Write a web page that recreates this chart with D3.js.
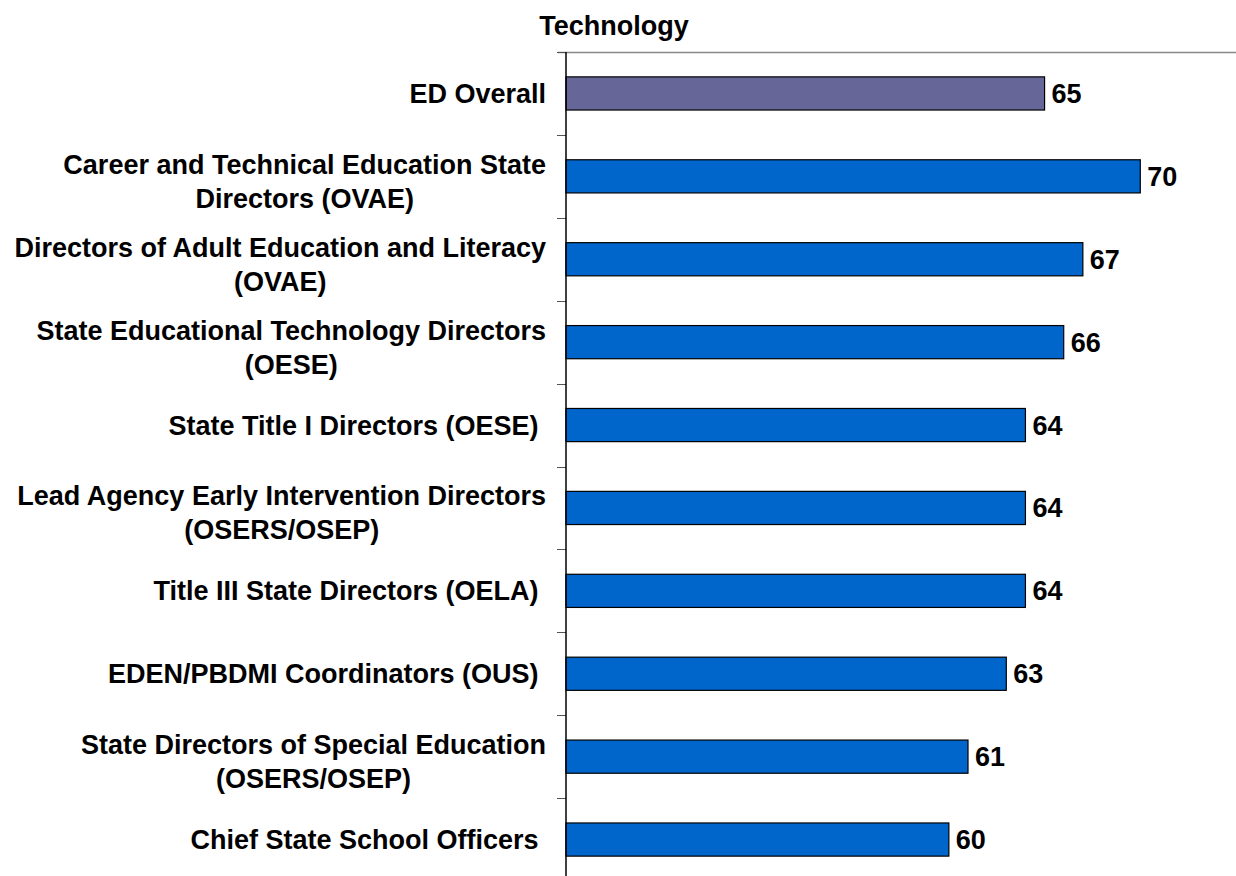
<!DOCTYPE html>
<html>
<head>
<meta charset="utf-8">
<script src="https://cdn.jsdelivr.net/npm/d3@7"></script>
<style>
  body { margin: 0; background: #fff; }
  text { font-family: Arial, "Liberation Sans", sans-serif; font-weight: bold; white-space: pre; }
</style>
</head>
<body>
<div id="container"></div>
<script>
//枠の大きさ
let width = 1236;
let height = 876;
let fontSize = 27;

//データ
var categories = [
  ["ED Overall"],
  ["Career and Technical Education State", "Directors (OVAE)"],
  ["Directors of Adult Education and Literacy", "(OVAE)"],
  ["State Educational Technology Directors", "(OESE)"],
  ["State Title I Directors (OESE) "],
  ["Lead Agency Early Intervention Directors", "(OSERS/OSEP)"],
  ["Title III State Directors (OELA) "],
  ["EDEN/PBDMI Coordinators (OUS) "],
  ["State Directors of Special Education", "(OSERS/OSEP)"],
  ["Chief State School Officers "]
];
var values = [65, 70, 67, 66, 64, 64, 64, 63, 61, 60];
var xDomain = [40, 75];
var title = "Technology";

var barColor = "#0066cc";
var overallColor = "#666699";

var svg = d3.select("#container").append("svg")
  .attr("width", width)
  .attr("height", height);

var x = d3.scaleLinear().domain(xDomain).range([566, 1236]);
var y = d3.scaleBand()
  .domain(d3.range(categories.length))
  .range([52, 881])
  .paddingInner(0.6)
  .paddingOuter(0.3);

//タイトル
svg.append("text")
  .attr("x", 614)
  .attr("y", 35)
  .attr("text-anchor", "middle")
  .attr("font-size", fontSize)
  .text(title);

//上の線
svg.append("line")
  .attr("x1", 558).attr("x2", 1236)
  .attr("y1", 52.5).attr("y2", 52.5)
  .attr("stroke", "#888").attr("stroke-width", 1.5);

//目盛り
var step = y.step();
var tickYs = d3.range(categories.length + 1).map(function(i) {
  return 52 + i * step;
});
svg.append("g").selectAll("line").data(tickYs).enter().append("line")
  .attr("x1", 557).attr("x2", 566)
  .attr("y1", function(d) { return Math.round(d) + 0.5; })
  .attr("y2", function(d) { return Math.round(d) + 0.5; })
  .attr("stroke", "#555").attr("stroke-width", 1);

//バー
svg.append("g").selectAll("rect").data(values).enter().append("rect")
  .attr("x", x(xDomain[0]))
  .attr("y", function(d, i) { return y(i); })
  .attr("width", function(d) { return x(d) - x(xDomain[0]); })
  .attr("height", y.bandwidth())
  .attr("fill", function(d, i) { return i === 0 ? overallColor : barColor; })
  .attr("stroke", "#000")
  .attr("stroke-width", 1.2);

//値ラベル
svg.append("g").selectAll("text").data(values).enter().append("text")
  .attr("x", function(d) { return x(d) + 7; })
  .attr("y", function(d, i) { return y(i) + y.bandwidth() / 2 + 9.5; })
  .attr("font-size", fontSize)
  .text(function(d) { return d; });

//縦軸
svg.append("line")
  .attr("x1", 566).attr("x2", 566)
  .attr("y1", 52).attr("y2", 881)
  .attr("stroke", "#000").attr("stroke-width", 1.5);

//カテゴリラベル
var lineGap = 34;
var labelRight = 546;
var labels = svg.append("g");
categories.forEach(function(lines, i) {
  var g = labels.append("g");
  var cy = y(i) + y.bandwidth() / 2;
  var n = lines.length;
  var texts = lines.map(function(s, j) {
    return g.append("text")
      .attr("font-size", fontSize)
      .attr("text-anchor", "middle")
      .attr("y", cy + 9.5 + (j - (n - 1) / 2) * lineGap + (n > 1 ? 5 : 0))
      .text(s);
  });
  var w = d3.max(texts, function(t) { return t.node().getComputedTextLength(); });
  texts.forEach(function(t) { t.attr("x", labelRight - w / 2); });
});
</script>
</body>
</html>
